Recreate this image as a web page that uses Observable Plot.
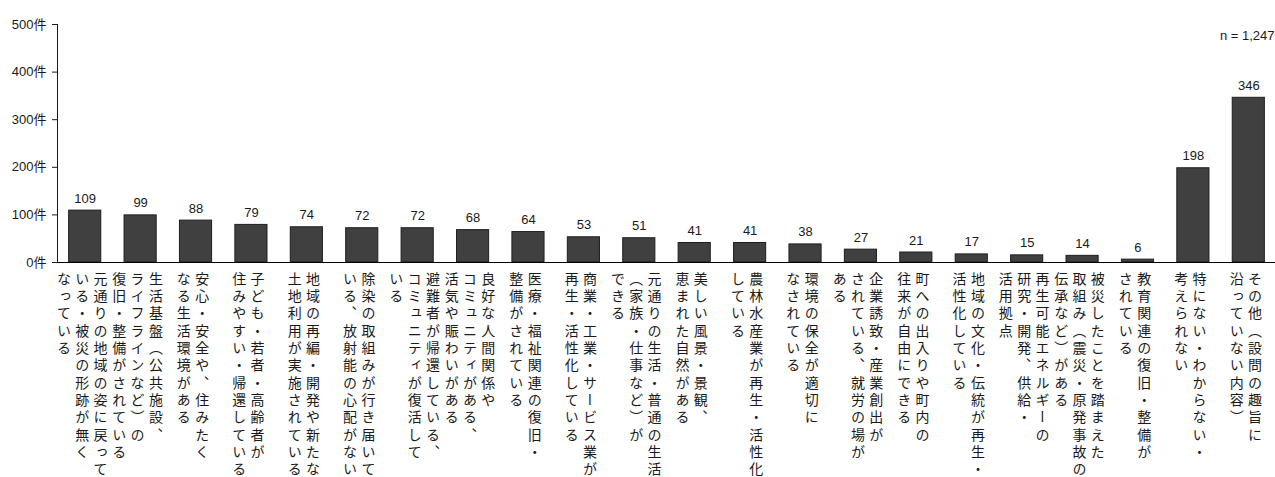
<!DOCTYPE html>
<html><head><meta charset="utf-8">
<script src="https://cdn.jsdelivr.net/npm/d3@7"></script>
<script src="https://cdn.jsdelivr.net/npm/@observablehq/plot@0.6"></script>
<style>
body{margin:0;background:#fff;}
#chart svg{display:block;}
</style></head><body><div id="chart"></div>
<script>
// Category labels, split into vertical columns (rightmost column first)
const labels = [
  ["元通りの地域の姿に戻って", "いる・被災の形跡が無く", "なっている"],
  ["生活基盤（公共施設、", "ライフラインなど）の", "復旧・整備がされている"],
  ["安心・安全や、住みたく", "なる生活環境がある"],
  ["子ども・若者・高齢者が", "住みやすい・帰還している"],
  ["地域の再編・開発や新たな", "土地利用が実施されている"],
  ["除染の取組みが行き届いて", "いる、放射能の心配がない"],
  ["避難者が帰還している、", "コミュニティが復活して", "いる"],
  ["良好な人間関係や", "コミュニティがある、", "活気や賑わいがある"],
  ["医療・福祉関連の復旧・", "整備がされている"],
  ["商業・工業・サービス業が", "再生・活性化している"],
  ["元通りの生活・普通の生活", "（家族・仕事など）が", "できる"],
  ["美しい風景・景観、", "恵まれた自然がある"],
  ["農林水産業が再生・活性化", "している"],
  ["環境の保全が適切に", "なされている"],
  ["企業誘致・産業創出が", "されている、就労の場が", "ある"],
  ["町への出入りや町内の", "往来が自由にできる"],
  ["地域の文化・伝統が再生・", "活性化している"],
  ["再生可能エネルギーの", "研究・開発、供給・", "活用拠点"],
  ["被災したことを踏まえた", "取組み（震災・原発事故の", "伝承など）がある"],
  ["教育関連の復旧・整備が", "されている"],
  ["特にない・わからない・", "考えられない"],
  ["その他（設問の趣旨に", "沿っていない内容）"]
];
const values = [109, 99, 88, 79, 74, 72, 72, 68, 64, 53, 51, 41, 41, 38, 27, 21, 17, 15, 14, 6, 198, 346];
const yTicks = [0, 100, 200, 300, 400, 500];
const unit = "件";
const sampleNote = "n = 1,247";

const cats = labels.map(cols => cols.join(""));
const bars = cats.map((c, i) => ({cat: c, value: values[i]}));

const COL = 18.3, SHIFT = -3;
const colRows = [];
labels.forEach((cols, k) => cols.forEach((t, i) =>
  colRows.push({cat: cats[k], text: t, off: +(((cols.length - 1) / 2 - i) * COL + SHIFT).toFixed(2)})));
const offsets = [...new Set(colRows.map(d => d.off))];
const colTexts = new Set(colRows.map(d => d.text));

const labelMarks = offsets.map(o => Plot.text(colRows.filter(d => d.off === o), {
  x: "cat", text: "text", frameAnchor: "bottom", dx: o, dy: 9,
  textAnchor: "start", lineAnchor: "bottom", fontSize: 14, fill: "#1a1a1a"
}));

const chart = Plot.plot({
  width: 1275, height: 477,
  marginLeft: 57, marginRight: -1, marginTop: 24, marginBottom: 215,
  style: {fontFamily: "'Liberation Sans','Noto Sans CJK JP',sans-serif", fontSize: "13px", color: "#1a1a1a", background: "#fff"},
  x: {domain: cats, axis: null, paddingInner: 0.42, paddingOuter: 0.21, round: false},
  y: {domain: [0, 500], ticks: yTicks, tickFormat: d => `${d}${unit}`, tickSize: 5, tickPadding: 6, label: null, line: true},
  marks: [
    Plot.barY(bars, {x: "cat", y: "value", fill: "#404040", stroke: "#1e1e1e", strokeWidth: 1}),
    Plot.ruleY([0], {stroke: "#000"}),
    Plot.text(bars, {x: "cat", y: "value", text: d => String(d.value), dy: -8, lineAnchor: "bottom", fontSize: 13, fill: "#1a1a1a"}),
    ...labelMarks,
    Plot.text([sampleNote], {frameAnchor: "top-right", dx: -2, dy: 11, textAnchor: "end", lineAnchor: "middle", fontSize: 13, fill: "#1a1a1a"})
  ]
});
d3.select(chart).selectAll("text")
  .filter(function() { return colTexts.has(this.textContent); })
  .attr("writing-mode", "vertical-rl")
  .attr("text-anchor", "start")
  .style("writing-mode", "vertical-rl")
  .style("text-orientation", "mixed")
  .style("letter-spacing", "3.3px")
  .style("font-family", "'Noto Sans CJK JP',sans-serif");
document.getElementById("chart").appendChild(chart);
</script>
</body></html>
